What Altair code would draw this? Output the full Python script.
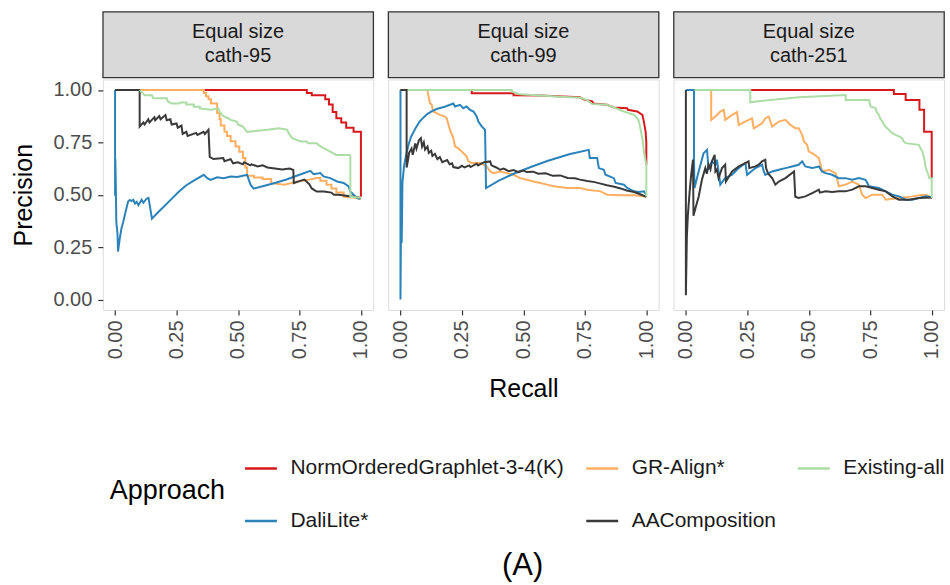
import altair as alt
import pandas as pd

PANELS = ["cath-95", "cath-99", "cath-251"]
STRIP_TOP = "Equal size"
SERIES = ["NormOrderedGraphlet-3-4(K)", "DaliLite*", "GR-Align*", "AAComposition", "Existing-all"]
COLORS = ["#d7191c", "#2b83ba", "#fdae61", "#3a3a3a", "#abdda4"]
DRAW_ORDER = ["NormOrderedGraphlet-3-4(K)", "GR-Align*", "DaliLite*", "AAComposition", "Existing-all"]
TICKS = [0, 0.25, 0.5, 0.75, 1.0]

# ---------------- cath-95 ----------------
P1_RED = [(0, 1), (0.78, 1), (0.78, 0.985), (0.80, 0.985), (0.80, 0.975), (0.855, 0.975), (0.855, 0.955),
          (0.87, 0.955), (0.87, 0.93), (0.885, 0.93), (0.885, 0.895), (0.90, 0.895), (0.90, 0.865),
          (0.92, 0.865), (0.92, 0.845), (0.94, 0.845), (0.94, 0.82), (0.97, 0.82), (0.97, 0.80),
          (1.0, 0.80), (1.0, 0.49)]
P1_ORANGE = [(0, 1), (0.361, 1), (0.361, 0.985), (0.37, 0.985), (0.37, 0.97), (0.38, 0.97), (0.38, 0.955),
             (0.39, 0.955), (0.39, 0.935), (0.415, 0.935), (0.415, 0.89), (0.425, 0.89), (0.425, 0.86),
             (0.43, 0.86), (0.43, 0.83), (0.445, 0.83), (0.445, 0.80), (0.455, 0.80), (0.455, 0.78),
             (0.47, 0.78), (0.47, 0.755), (0.49, 0.755), (0.49, 0.73), (0.505, 0.73), (0.505, 0.705),
             (0.52, 0.705), (0.52, 0.675), (0.53, 0.675), (0.53, 0.63), (0.537, 0.63), (0.537, 0.59),
             (0.565, 0.59), (0.565, 0.582), (0.6, 0.582), (0.6, 0.575), (0.635, 0.575), (0.635, 0.555),
             (0.69, 0.548), (0.74, 0.563), (0.79, 0.572), (0.82, 0.58), (0.835, 0.58), (0.835, 0.567),
             (0.86, 0.567), (0.86, 0.548), (0.88, 0.548), (0.88, 0.53), (0.90, 0.53), (0.90, 0.51),
             (0.93, 0.51), (0.93, 0.49), (0.97, 0.487), (1.0, 0.48)]
P1_BLUE = [(0, 1), (0, 0.5), (0.001, 0.5), (0.001, 0.673), (0.003, 0.55), (0.005, 0.37), (0.01, 0.31),
           (0.012, 0.229), (0.019, 0.29), (0.026, 0.34), (0.033, 0.37), (0.043, 0.42), (0.053, 0.467),
           (0.06, 0.475), (0.067, 0.47), (0.074, 0.476), (0.081, 0.458), (0.088, 0.466), (0.095, 0.45),
           (0.108, 0.476), (0.115, 0.462), (0.129, 0.482), (0.136, 0.485), (0.143, 0.435), (0.15, 0.386),
           (0.17, 0.41), (0.2, 0.445), (0.23, 0.48), (0.26, 0.515), (0.29, 0.545), (0.32, 0.567),
           (0.361, 0.595), (0.375, 0.579), (0.388, 0.571), (0.415, 0.583), (0.442, 0.579), (0.47, 0.587),
           (0.497, 0.585), (0.524, 0.592), (0.537, 0.595), (0.551, 0.548), (0.564, 0.529), (0.6, 0.54),
           (0.65, 0.556), (0.7, 0.574), (0.75, 0.595), (0.794, 0.614), (0.808, 0.598), (0.835, 0.603),
           (0.848, 0.587), (0.875, 0.579), (0.903, 0.563), (0.93, 0.556), (0.95, 0.54), (0.957, 0.516),
           (0.97, 0.5), (0.984, 0.484), (0.997, 0.481)]
P1_BLACK = [(0, 1), (0.1, 1), (0.1, 0.825), (0.115, 0.845), (0.12, 0.835), (0.135, 0.86), (0.14, 0.845),
            (0.16, 0.87), (0.163, 0.855), (0.18, 0.875), (0.185, 0.86), (0.205, 0.88), (0.21, 0.855),
            (0.225, 0.86), (0.23, 0.835), (0.25, 0.84), (0.255, 0.82), (0.27, 0.83), (0.275, 0.79),
            (0.29, 0.80), (0.295, 0.78), (0.33, 0.795), (0.335, 0.785), (0.36, 0.80), (0.365, 0.79),
            (0.38, 0.81), (0.385, 0.68), (0.40, 0.67), (0.44, 0.675), (0.445, 0.66), (0.47, 0.67),
            (0.48, 0.65), (0.5, 0.655), (0.52, 0.645), (0.525, 0.655), (0.55, 0.64), (0.555, 0.645),
            (0.58, 0.635), (0.6, 0.64), (0.62, 0.63), (0.65, 0.625), (0.68, 0.62), (0.71, 0.625),
            (0.725, 0.618), (0.727, 0.555), (0.75, 0.565), (0.77, 0.572), (0.79, 0.55), (0.80, 0.53),
            (0.82, 0.515), (0.85, 0.515), (0.88, 0.51), (0.89, 0.50), (0.91, 0.50), (0.94, 0.495),
            (0.97, 0.49), (1.0, 0.485)]
P1_GREEN = [(0.1, 1), (0.12, 0.975), (0.15, 0.975), (0.155, 0.96), (0.21, 0.96), (0.215, 0.945),
            (0.23, 0.935), (0.26, 0.935), (0.265, 0.94), (0.29, 0.94), (0.29, 0.93), (0.32, 0.93),
            (0.32, 0.92), (0.345, 0.92), (0.345, 0.912), (0.39, 0.905), (0.42, 0.912), (0.425, 0.897),
            (0.44, 0.875), (0.46, 0.865), (0.47, 0.857), (0.495, 0.849), (0.5, 0.835), (0.52, 0.825),
            (0.53, 0.81), (0.537, 0.80), (0.58, 0.805), (0.62, 0.81), (0.665, 0.817), (0.70, 0.81),
            (0.705, 0.795), (0.72, 0.77), (0.755, 0.754), (0.78, 0.754), (0.785, 0.746), (0.82, 0.746),
            (0.83, 0.735), (0.848, 0.722), (0.875, 0.706), (0.9, 0.69), (0.955, 0.69), (0.957, 0.683),
            (0.957, 0.49), (0.985, 0.487), (1.0, 0.487)]

# ---------------- cath-99 ----------------
P2_RED = [(0, 1), (0.29, 1), (0.29, 0.984), (0.46, 0.984), (0.46, 0.975), (0.57, 0.973), (0.73, 0.965),
          (0.745, 0.955), (0.78, 0.945), (0.785, 0.935), (0.84, 0.929), (0.868, 0.916), (0.922, 0.913),
          (0.925, 0.905), (0.963, 0.897), (0.984, 0.881), (0.99, 0.849), (0.997, 0.802), (1.0, 0.75),
          (1.0, 0.643)]
P2_ORANGE = [(0, 1), (0.109, 1), (0.12, 0.937), (0.127, 0.929), (0.133, 0.897), (0.147, 0.889),
             (0.16, 0.881), (0.181, 0.873), (0.188, 0.865), (0.201, 0.81), (0.215, 0.77), (0.222, 0.73),
             (0.235, 0.722), (0.242, 0.714), (0.256, 0.698), (0.269, 0.683), (0.276, 0.659), (0.29, 0.651),
             (0.324, 0.651), (0.351, 0.635), (0.365, 0.611), (0.378, 0.603), (0.405, 0.611), (0.433, 0.603),
             (0.46, 0.595), (0.487, 0.579), (0.514, 0.571), (0.541, 0.563), (0.569, 0.556), (0.596, 0.548),
             (0.623, 0.54), (0.678, 0.532), (0.732, 0.532), (0.759, 0.524), (0.814, 0.516), (0.841, 0.5),
             (0.895, 0.497), (0.95, 0.497), (1.0, 0.492)]
P2_BLUE = [(0, 1), (0, 0), (0.003, 0.5), (0.005, 0.27), (0.008, 0.56), (0.015, 0.64), (0.023, 0.69),
           (0.033, 0.74), (0.043, 0.776), (0.06, 0.815), (0.077, 0.848), (0.095, 0.87), (0.11, 0.886),
           (0.13, 0.9), (0.15, 0.91), (0.18, 0.92), (0.215, 0.935), (0.222, 0.921), (0.242, 0.929),
           (0.256, 0.913), (0.269, 0.921), (0.283, 0.905), (0.297, 0.897), (0.31, 0.873), (0.317, 0.849),
           (0.331, 0.825), (0.344, 0.81), (0.348, 0.532), (0.4, 0.567), (0.46, 0.6), (0.53, 0.632),
           (0.6, 0.662), (0.69, 0.694), (0.766, 0.714), (0.77, 0.675), (0.8, 0.675), (0.807, 0.627),
           (0.827, 0.619), (0.834, 0.595), (0.868, 0.579), (0.875, 0.556), (0.909, 0.548), (0.922, 0.532),
           (0.95, 0.516), (0.97, 0.513), (0.99, 0.516), (1.0, 0.5)]
P2_BLACK = [(0, 1), (0.025, 1), (0.025, 0.63), (0.03, 0.66), (0.035, 0.70), (0.045, 0.72), (0.05, 0.69),
            (0.06, 0.745), (0.065, 0.72), (0.075, 0.76), (0.083, 0.77), (0.088, 0.73), (0.095, 0.75),
            (0.1, 0.715), (0.11, 0.73), (0.115, 0.70), (0.125, 0.71), (0.13, 0.685), (0.14, 0.695),
            (0.15, 0.67), (0.16, 0.68), (0.17, 0.655), (0.19, 0.665), (0.2, 0.645), (0.21, 0.65),
            (0.215, 0.632), (0.235, 0.627), (0.25, 0.638), (0.26, 0.63), (0.28, 0.64), (0.285, 0.632),
            (0.31, 0.648), (0.315, 0.64), (0.34, 0.655), (0.365, 0.659), (0.37, 0.64), (0.39, 0.63),
            (0.405, 0.619), (0.42, 0.625), (0.44, 0.612), (0.46, 0.618), (0.48, 0.608), (0.5, 0.615),
            (0.514, 0.608), (0.54, 0.61), (0.56, 0.6), (0.59, 0.602), (0.62, 0.59), (0.65, 0.592),
            (0.68, 0.58), (0.71, 0.578), (0.73, 0.572), (0.76, 0.565), (0.79, 0.56), (0.814, 0.553),
            (0.84, 0.545), (0.87, 0.538), (0.895, 0.53), (0.92, 0.52), (0.95, 0.513), (0.975, 0.502),
            (1.0, 0.49)]
P2_GREEN = [(0.03, 1), (0.453, 1), (0.453, 0.992), (0.487, 0.979), (0.569, 0.973), (0.65, 0.968),
            (0.732, 0.963), (0.759, 0.952), (0.78, 0.933), (0.841, 0.929), (0.868, 0.916), (0.909, 0.897),
            (0.95, 0.881), (0.963, 0.865), (0.97, 0.849), (0.977, 0.81), (0.986, 0.754), (0.99, 0.706),
            (1.0, 0.643), (1.0, 0.492)]

# ---------------- cath-251 ----------------
P3_RED = [(0, 1), (0.846, 1), (0.846, 0.98), (0.894, 0.98), (0.894, 0.952), (0.95, 0.952), (0.95, 0.905),
          (0.969, 0.905), (0.969, 0.80), (1.0, 0.80), (1.0, 0.58)]
P3_ORANGE = [(0, 1), (0.103, 1), (0.103, 0.857), (0.12, 0.873), (0.14, 0.897), (0.154, 0.905),
             (0.16, 0.857), (0.188, 0.881), (0.208, 0.894), (0.215, 0.833), (0.269, 0.865), (0.276, 0.817),
             (0.31, 0.841), (0.323, 0.865), (0.337, 0.873), (0.351, 0.825), (0.378, 0.849), (0.405, 0.857),
             (0.425, 0.833), (0.446, 0.817), (0.459, 0.817), (0.473, 0.786), (0.48, 0.754), (0.493, 0.738),
             (0.5, 0.706), (0.514, 0.698), (0.541, 0.675), (0.548, 0.643), (0.554, 0.611), (0.582, 0.619),
             (0.609, 0.603), (0.622, 0.54), (0.649, 0.548), (0.677, 0.563), (0.704, 0.548), (0.717, 0.5),
             (0.731, 0.484), (0.758, 0.5), (0.799, 0.5), (0.813, 0.476), (0.867, 0.484), (0.921, 0.492),
             (0.962, 0.5), (0.982, 0.497), (1.0, 0.484)]
P3_BLUE = [(0, 1), (0.033, 1), (0.033, 0.673), (0.035, 0.532), (0.052, 0.611), (0.072, 0.698),
           (0.086, 0.714), (0.092, 0.627), (0.106, 0.659), (0.12, 0.643), (0.126, 0.667), (0.133, 0.611),
           (0.14, 0.548), (0.16, 0.579), (0.188, 0.595), (0.201, 0.611), (0.215, 0.627), (0.242, 0.651),
           (0.249, 0.595), (0.283, 0.627), (0.31, 0.643), (0.317, 0.611), (0.323, 0.595), (0.351, 0.611),
           (0.378, 0.619), (0.405, 0.627), (0.432, 0.635), (0.459, 0.643), (0.473, 0.659), (0.486, 0.635),
           (0.514, 0.627), (0.541, 0.635), (0.554, 0.611), (0.568, 0.603), (0.595, 0.595), (0.622, 0.579),
           (0.649, 0.579), (0.677, 0.571), (0.704, 0.579), (0.731, 0.571), (0.745, 0.54), (0.785, 0.532),
           (0.813, 0.516), (0.84, 0.5), (0.867, 0.492), (0.894, 0.476), (0.921, 0.476), (0.948, 0.484),
           (0.976, 0.492), (1.0, 0.487)]
P3_BLACK = [(0, 1), (0, 0.02), (0.004, 0.30), (0.008, 0.40), (0.015, 0.51), (0.022, 0.60), (0.029, 0.667),
            (0.031, 0.40), (0.04, 0.44), (0.052, 0.49), (0.065, 0.57), (0.079, 0.627), (0.085, 0.60),
            (0.092, 0.643), (0.1, 0.62), (0.106, 0.659), (0.117, 0.69), (0.12, 0.611), (0.126, 0.62),
            (0.133, 0.579), (0.147, 0.627), (0.16, 0.643), (0.163, 0.563), (0.188, 0.611), (0.215, 0.635),
            (0.242, 0.651), (0.255, 0.659), (0.258, 0.627), (0.283, 0.635), (0.296, 0.643), (0.31, 0.659),
            (0.323, 0.667), (0.326, 0.627), (0.335, 0.60), (0.351, 0.579), (0.364, 0.548), (0.378, 0.563),
            (0.405, 0.579), (0.44, 0.611), (0.445, 0.49), (0.459, 0.484), (0.486, 0.492), (0.514, 0.508),
            (0.541, 0.524), (0.545, 0.51), (0.568, 0.516), (0.595, 0.513), (0.622, 0.516), (0.649, 0.516),
            (0.677, 0.524), (0.704, 0.54), (0.731, 0.54), (0.758, 0.532), (0.785, 0.524), (0.813, 0.516),
            (0.84, 0.492), (0.867, 0.476), (0.908, 0.476), (0.948, 0.484), (1.0, 0.487)]
P3_GREEN = [(0.035, 1), (0.262, 1), (0.262, 0.941), (0.323, 0.95), (0.459, 0.965), (0.65, 0.976),
            (0.65, 0.952), (0.745, 0.952), (0.751, 0.921), (0.772, 0.913), (0.776, 0.895), (0.785, 0.881),
            (0.79, 0.865), (0.799, 0.849), (0.805, 0.835), (0.812, 0.825), (0.82, 0.815), (0.826, 0.81),
            (0.833, 0.80), (0.84, 0.794), (0.853, 0.786), (0.867, 0.778), (0.88, 0.77), (0.885, 0.755),
            (0.894, 0.746), (0.948, 0.738), (0.955, 0.72), (0.962, 0.706), (0.969, 0.675), (0.976, 0.627),
            (0.985, 0.60), (0.99, 0.579), (1.0, 0.579), (1.0, 0.484)]

DATA = {
    "cath-95": {"NormOrderedGraphlet-3-4(K)": P1_RED, "GR-Align*": P1_ORANGE, "Existing-all": P1_GREEN,
                "DaliLite*": P1_BLUE, "AAComposition": P1_BLACK},
    "cath-99": {"NormOrderedGraphlet-3-4(K)": P2_RED, "GR-Align*": P2_ORANGE, "Existing-all": P2_GREEN,
                "DaliLite*": P2_BLUE, "AAComposition": P2_BLACK},
    "cath-251": {"NormOrderedGraphlet-3-4(K)": P3_RED, "GR-Align*": P3_ORANGE, "Existing-all": P3_GREEN,
                 "DaliLite*": P3_BLUE, "AAComposition": P3_BLACK},
}

rows = []
for panel_name, smap in DATA.items():
    for s, pts in smap.items():
        for i, (r, p) in enumerate(pts):
            rows.append({"panel": panel_name, "series": s, "idx": i, "recall": r, "precision": p})
df = pd.DataFrame(rows)

W, H, SH = 271, 231, 66
FONT = "Liberation Sans"
xscale = alt.Scale(domain=[-0.05, 1.05], nice=False, zero=False)
yscale = alt.Scale(domain=[-0.05, 1.05], nice=False, zero=False)

legend = alt.Legend(
    title="Approach", orient="none", legendX=7, legendY=440, columns=3,
    symbolType="stroke", symbolSize=1024, symbolStrokeWidth=2.5,
    labelFontSize=21, labelFont=FONT, labelColor="#1a1a1a", labelOffset=12, labelLimit=500,
    titleFontSize=27, titleFont=FONT, titleFontWeight="normal", titleColor="#000000",
    titleOrient="left", titleAnchor="middle", titlePadding=18, titleLimit=300,
    rowPadding=25, columnPadding=16, gridAlign="each", padding=0,
)


def panel(i, name):
    d = df[df.panel == name]
    xaxis = alt.Axis(values=TICKS, format=".2f", labelAngle=270, labelFontSize=20, labelColor="#4d4d4d",
                     labelFont=FONT, labelPadding=5, tickSize=5, tickColor="#333333", tickWidth=1.2,
                     domain=False, grid=False,
                     title="Recall" if i == 1 else "", titleFontSize=25, titleFont=FONT,
                     titleFontWeight="normal", titleColor="#000000", titlePadding=18)
    if i == 0:
        yaxis = alt.Axis(values=TICKS, format=".2f", labelFontSize=20, labelColor="#4d4d4d", labelFont=FONT,
                         labelPadding=6, tickSize=5, tickColor="#333333", tickWidth=1.2, domain=False,
                         grid=False, title="Precision", titleFontSize=25, titleFont=FONT,
                         titleFontWeight="normal", titleColor="#000000", titlePadding=17)
    else:
        yaxis = None
    layers = []
    for s in DRAW_ORDER:
        layers.append(
            alt.Chart(d[d.series == s]).mark_line(strokeWidth=2).encode(
                x=alt.X("recall:Q", scale=xscale, axis=xaxis),
                y=alt.Y("precision:Q", scale=yscale, axis=yaxis),
                color=alt.Color("series:N", scale=alt.Scale(domain=SERIES, range=COLORS), legend=legend),
                order=alt.Order("idx:Q"),
            )
        )
    plot = alt.layer(*layers).properties(width=W, height=H)
    strip = alt.Chart(pd.DataFrame({"label": [STRIP_TOP + "\n" + name]})).mark_text(
        font=FONT, fontSize=20, color="#1a1a1a", lineBreak="\n", lineHeight=25, baseline="middle", align="center"
    ).encode(
        x=alt.value(W / 2), y=alt.value(SH / 2 - 13), text="label:N"
    ).properties(width=W, height=SH, view=alt.ViewBackground(fill="#d9d9d9", stroke="#333333", strokeWidth=1.3))
    return alt.vconcat(strip, plot, spacing=0)


chart = alt.hconcat(*[panel(i, n) for i, n in enumerate(PANELS)], spacing=13).resolve_scale(
    color="shared").resolve_legend(color="shared").properties(
    title=alt.TitleParams("(A)", orient="bottom", fontSize=31, font=FONT, fontWeight="normal",
                          anchor="middle", offset=20, dx=45, color="#000000"),
    padding={"left": 10, "top": 10, "right": 5, "bottom": 5},
).configure_view(stroke="#333333", strokeWidth=1.3, fill="#ffffff").configure(background="#ffffff")

chart.save("out.html", embed_options={"renderer": "svg", "actions": False})
